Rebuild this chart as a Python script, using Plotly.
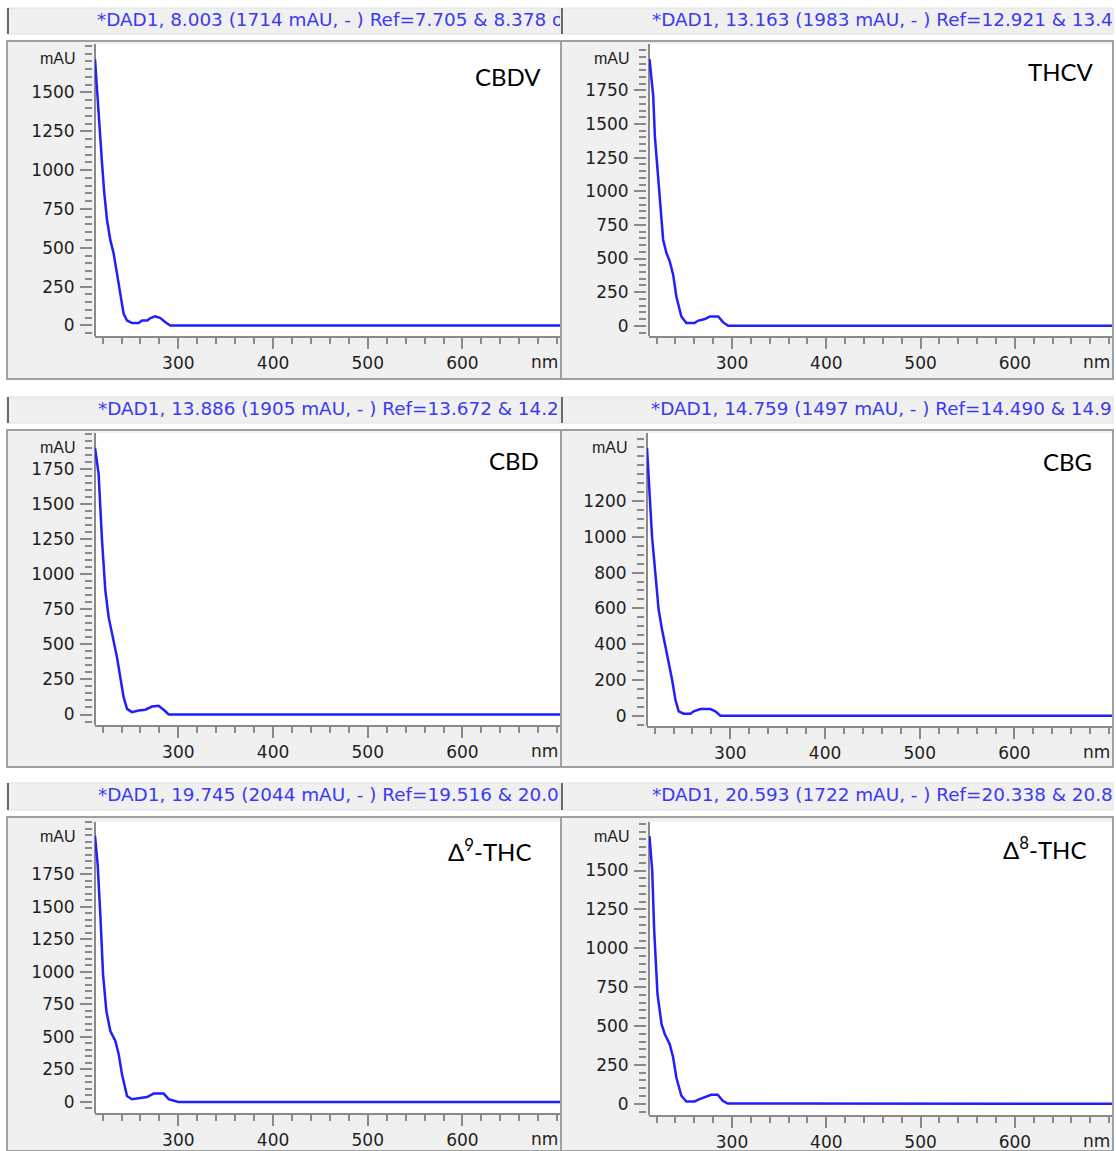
import plotly.graph_objects as go

W, H = 1116, 1151

# ---------------- data ----------------
compounds = ["CBDV", "THCV", "CBD", "CBG", "Δ<sup>9</sup>-THC", "Δ<sup>8</sup>-THC"]
headers = [
    "*DAD1, 8.003 (1714 mAU, - ) Ref=7.705 & 8.378 of",
    "*DAD1, 13.163 (1983 mAU, - ) Ref=12.921 & 13.4",
    "*DAD1, 13.886 (1905 mAU, - ) Ref=13.672 & 14.2",
    "*DAD1, 14.759 (1497 mAU, - ) Ref=14.490 & 14.9",
    "*DAD1, 19.745 (2044 mAU, - ) Ref=19.516 & 20.0",
    "*DAD1, 20.593 (1722 mAU, - ) Ref=20.338 & 20.8",
]

wl_cbdv = [212, 215.8, 219.4, 221.8, 224.7, 228.2, 231.7, 235.2, 238.7, 242.2, 245.8, 251, 258, 261.7, 267, 270.4, 275.7, 281, 286.3, 291.5, 703]
abs_cbdv = [1714, 1347, 1045, 851, 679, 549, 463, 334, 205, 76, 32, 15, 15, 32, 32, 47, 58, 47, 21, 0, 0]

wl_thcv = [212.5, 216.5, 218.2, 221.8, 224.5, 227, 230.5, 234, 237.6, 241, 246.3, 251.6, 260.3, 263.8, 271.3, 276.6, 285.4, 290.7, 296, 703]
abs_thcv = [1983, 1707, 1410, 1087, 814, 640, 541, 479, 380, 218, 69, 20, 20, 37, 50, 69, 69, 25, 0, 0]

wl_cbd = [212, 215.8, 219.4, 222.9, 226.4, 231, 235.2, 238.7, 242.2, 245.8, 251, 258, 265.1, 272.2, 279.2, 284.5, 289.8, 703]
abs_cbd = [1905, 1719, 1243, 886, 695, 552, 409, 266, 124, 40, 17, 29, 34, 57, 62, 34, 0, 0]

wl_cbg = [212, 213.8, 217.3, 220.8, 224.3, 227.9, 231.4, 234.9, 238.5, 242, 245.5, 250.8, 257.8, 261.3, 268.4, 279, 284.2, 289.5, 703]
abs_cbg = [1497, 1337, 1002, 797, 592, 480, 387, 313, 201, 89, 24, 11, 11, 24, 37, 37, 24, 0, 0]

wl_d9 = [212, 214.8, 217.6, 220.5, 224, 228.2, 233.5, 237, 240.5, 245.8, 251, 259.9, 267, 273.9, 284.5, 289.8, 296.8, 300, 703]
abs_d9 = [2044, 1824, 1440, 980, 698, 545, 468, 366, 213, 46, 21, 33, 38, 64, 64, 21, 8, 0, 0]

wl_d8 = [212.5, 215.4, 217.5, 221, 225.3, 228.7, 234, 237.6, 241, 246.3, 251.6, 260.3, 265.6, 272.6, 277.9, 284.9, 290.2, 295.4, 703]
abs_d8 = [1722, 1500, 1114, 706, 513, 449, 384, 298, 169, 52, 15, 15, 30, 45, 58, 58, 19, 2, 0]

series_wl = [wl_cbdv, wl_thcv, wl_cbd, wl_cbg, wl_d9, wl_d8]
series_abs = [abs_cbdv, abs_thcv, abs_cbd, abs_cbg, abs_d9, abs_d8]

x_ticks = [300, 400, 500, 600]
y_major = [250, 250, 250, 200, 250, 250]             # major tick step per panel
y_last_label = [1500, 1750, 1750, 1200, 1750, 1500]  # highest labelled tick
y_ranges = [[-68, 1812], [-76, 2095], [-75, 2010], [-58, 1581], [-85, 2150], [-72, 1812]]
x_range = [212, 703]

# ---------------- layout geometry (pixels) ----------------
frames = [(7, 561, 41, 379), (561, 1113, 41, 379),
          (7, 561, 430, 767), (561, 1113, 430, 767),
          (7, 561, 817, 1151), (561, 1113, 817, 1151)]
plots = [(95, 560, 44, 336), (649, 1112, 44, 336),
         (95, 560, 433, 725), (647, 1112, 433, 726),
         (95, 560, 822, 1113), (649, 1112, 822, 1115)]
headers_box = [(7, 560, 8, 34), (561, 1113, 8, 34),
               (7, 560, 397, 423), (561, 1113, 397, 423),
               (7, 560, 783, 810), (561, 1113, 783, 810)]
header_text_x = [97, 652, 98, 651, 98, 652]
label_pos = [(508, 76), (1061, 72), (514, 460), (1067, 462), (489, 850), (1044, 848)]

def px(x):
    return x / W

def py(y):
    return 1 - y / H

TICKFONT = dict(family="DejaVu Sans", size=17, color="#1e1e1e")
AXCOL = "#8a8a8a"

fig = go.Figure()
shapes = []
annotations = []
layout = dict(
    width=W, height=H,
    margin=dict(l=0, r=0, t=0, b=0, pad=0, autoexpand=False),
    paper_bgcolor="white",
    plot_bgcolor="rgba(0,0,0,0)",
    showlegend=False,
)

for i in range(6):
    fx0, fx1, fy0, fy1 = frames[i]
    x0, x1, y0, y1 = plots[i]
    hx0, hx1, hy0, hy1 = headers_box[i]
    shapes.append(dict(type="rect", xref="paper", yref="paper", layer="below",
                       x0=px(fx0), x1=px(fx1), y0=py(fy1), y1=py(fy0),
                       fillcolor="#f0f0f0", line=dict(color="#a0a0a0", width=2)))
    shapes.append(dict(type="rect", xref="paper", yref="paper", layer="below",
                       x0=px(x0), x1=px(x1), y0=py(y1), y1=py(y0),
                       fillcolor="white", line=dict(width=0)))
    shapes.append(dict(type="line", xref="paper", yref="paper", layer="below",
                       x0=px(x0), x1=px(x0), y0=py(y1), y1=py(y0),
                       line=dict(color=AXCOL, width=2)))
    shapes.append(dict(type="rect", xref="paper", yref="paper", layer="below",
                       x0=px(hx0), x1=px(hx1), y0=py(hy1), y1=py(hy0),
                       fillcolor="#f0f0f0", line=dict(color="#e2e2e2", width=1)))
    shapes.append(dict(type="line", xref="paper", yref="paper", layer="above",
                       x0=px(hx0 + 1), x1=px(hx0 + 1), y0=py(hy1), y1=py(hy0),
                       line=dict(color="#6a6a6a", width=2)))

    n = i + 1
    xa = "xaxis" if n == 1 else f"xaxis{n}"
    ya = "yaxis" if n == 1 else f"yaxis{n}"
    xr = "x" if n == 1 else f"x{n}"
    yr = "y" if n == 1 else f"y{n}"

    yvals = list(range(0, y_last_label[i] + 1, y_major[i]))

    layout[xa] = dict(domain=[px(x0), px(x1)], anchor=yr, range=x_range,
                      tickmode="array", tickvals=x_ticks,
                      ticktext=[str(v) for v in x_ticks],
                      ticks="outside", ticklen=11, tickwidth=2, tickcolor=AXCOL,
                      minor=dict(dtick=20, tick0=0, ticks="outside", ticklen=6,
                                 tickwidth=2, tickcolor=AXCOL, showgrid=False),
                      showline=True, linecolor=AXCOL, linewidth=2,
                      showgrid=False, zeroline=False, tickfont=TICKFONT,
                      ticklabelstandoff=0, fixedrange=True)
    layout[ya] = dict(domain=[py(y1), py(y0)], anchor="free", position=px(x0 - 3),
                      range=y_ranges[i],
                      tickmode="array", tickvals=yvals, ticktext=[str(v) for v in yvals],
                      ticks="outside", ticklen=12, tickwidth=2, tickcolor=AXCOL,
                      minor=dict(dtick=50, tick0=0, ticks="outside", ticklen=7,
                                 tickwidth=2, tickcolor=AXCOL, showgrid=False),
                      showline=False, showgrid=False, zeroline=False,
                      tickfont=TICKFONT, ticklabelstandoff=2, fixedrange=True)

    fig.add_trace(go.Scatter(x=series_wl[i], y=series_abs[i], mode="lines",
                             line=dict(color="#1f1fff", width=2.5),
                             xaxis=xr, yaxis=yr, hoverinfo="skip"))

    # header subplot (clips the long header text)
    hn = n + 6
    hxa, hya = f"xaxis{hn}", f"yaxis{hn}"
    layout[hxa] = dict(domain=[px(hx0 + 2), px(hx1)], anchor=f"y{hn}",
                       range=[0, hx1 - hx0 - 2], visible=False, fixedrange=True)
    layout[hya] = dict(domain=[py(hy1), py(hy0)], anchor=f"x{hn}",
                       range=[0, 1], visible=False, fixedrange=True)
    fig.add_trace(go.Scatter(x=[header_text_x[i] - hx0 - 2], y=[0.5], mode="text",
                             text=[headers[i]], textposition="middle right",
                             textfont=dict(family="DejaVu Sans", size=18.4, color="#3a3af0"),
                             cliponaxis=True, xaxis=f"x{hn}", yaxis=f"y{hn}",
                             hoverinfo="skip"))

    # unit label at the top of the y axis
    annotations.append(dict(xref="paper", yref="paper", x=px(x0 - 17), y=py(y0 + 14),
                            text="mAU", showarrow=False, xanchor="right", yanchor="middle",
                            font=dict(family="Liberation Sans Narrow, Liberation Sans",
                                      size=16, color="#1e1e1e")))
    # compound label
    lx, ly = label_pos[i]
    annotations.append(dict(xref="paper", yref="paper", x=px(lx), y=py(ly),
                            text=compounds[i], showarrow=False,
                            xanchor="center", yanchor="middle",
                            font=dict(family="Lato", size=24, color="black")))
    # nm label
    annotations.append(dict(xref="paper", yref="paper", x=px(x1), y=py(y1 + 26),
                            text="nm", showarrow=False, xanchor="right", yanchor="middle",
                            font=TICKFONT))

layout["shapes"] = shapes
layout["annotations"] = annotations
fig.update_layout(**layout)
fig.write_html("out.html")
